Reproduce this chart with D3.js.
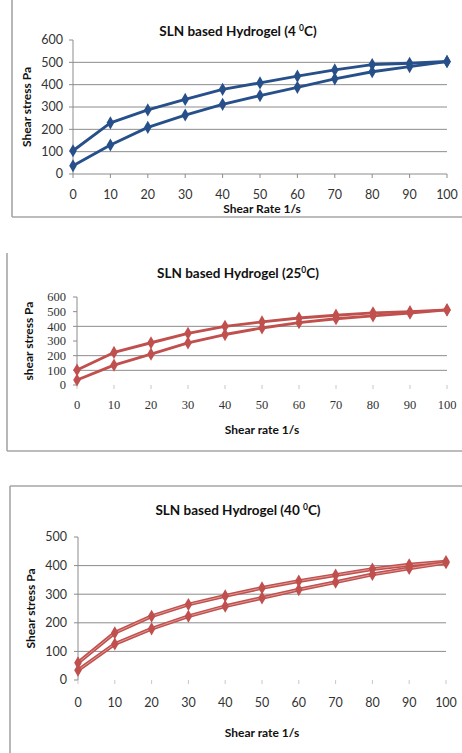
<!DOCTYPE html>
<html>
<head>
<meta charset="utf-8">
<script src="https://cdn.jsdelivr.net/npm/d3@7"></script>
<style>
  html, body { margin: 0; padding: 0; background: #fff; }
  svg { display: block; }
  .title { font: bold 13.5px Lato, "Open Sans", sans-serif; fill: #111; }
  .alabel { font: bold 12px Lato, "Open Sans", sans-serif; fill: #111; }
</style>
</head>
<body>
<svg id="fig" width="462" height="753"></svg>
<script>
// shear rate (1/s), shared by all three panels
const shearRate = [0, 10, 20, 30, 40, 50, 60, 70, 80, 90, 100];

// 4 °C
const up4 = [104, 229, 287, 334, 379, 408, 438, 466, 490, 496, 504];
const down4 = [37, 130, 209, 264, 312, 351, 388, 426, 458, 481, 503];
// 25 °C
const up25 = [102, 222, 288, 352, 400, 430, 457, 476, 492, 500, 512];
const down25 = [34, 136, 210, 287, 344, 389, 425, 452, 471, 490, 512];
// 40 °C
const up40 = [60, 165, 223, 264, 294, 322, 346, 367, 388, 403, 414];
const down40 = [34, 126, 179, 223, 258, 287, 316, 342, 369, 390, 410];

const yTicks600 = [0, 100, 200, 300, 400, 500, 600];
const yTicks500 = [0, 100, 200, 300, 400, 500];
const xTicks = shearRate;

const svg = d3.select("#fig");
const BORDER = "#a6a6a6";

const panels = [
  {
    title: ["SLN based Hydrogel (4 ", "0", "C)"], xLabel: "Shear Rate 1/s", yLabel: "Shear stress Pa",
    series: [up4, down4], color: "#27508a", hollow: false,
    yMax: 600, yTicks: yTicks600, grid: [100, 200, 300, 400, 500], xAxisLine: true,
    px: [73, 447], py: [174, 40], titleY: 36, xTickY: 199, xLabelY: 213, yLabelX: 31,
    tickFont: "12.5px Lato, 'Open Sans', sans-serif", yTickX: 63,
    frame: [[12, 0, 12, 217], [12, 217, 462, 217]]
  },
  {
    title: ["SLN based Hydrogel (25", "0", "C)"], xLabel: "Shear rate 1/s", yLabel: "shear stress Pa",
    series: [up25, down25], color: "#c0504d", hollow: false,
    yMax: 600, yTicks: yTicks600, grid: [100, 200, 400], xAxisLine: false,
    px: [77, 447], py: [385, 297], titleY: 278, xTickY: 409, xLabelY: 434, yLabelX: 33,
    tickFont: "12.5px 'Liberation Serif', 'DejaVu Serif', serif", yTickX: 66,
    frame: [[7, 253, 7, 451], [7, 451, 462, 451]]
  },
  {
    title: ["SLN based Hydrogel (40 ", "0", "C)"], xLabel: "Shear rate 1/s", yLabel: "Shear stress  Pa",
    series: [up40, down40], color: "#c0504d", hollow: true,
    yMax: 500, yTicks: yTicks500, grid: [100, 200, 300, 400], xAxisLine: false,
    px: [78, 446], py: [680, 537], titleY: 515, xTickY: 707, xLabelY: 737, yLabelX: 35,
    tickFont: "12.5px Lato, 'Open Sans', sans-serif", yTickX: 67,
    frame: [[10, 486, 462, 486], [10, 486, 10, 753]]
  }
];

function draw(p) {
  const g = svg.append("g");
  const x = d3.scaleLinear([0, 100], p.px);
  const y = d3.scaleLinear([0, p.yMax], p.py);

  // chart-area border (only the visible edges)
  for (const [x1, y1, x2, y2] of p.frame) {
    g.append("line").attr("x1", x1).attr("y1", y1).attr("x2", x2).attr("y2", y2)
      .attr("stroke", BORDER).attr("stroke-width", 1.6);
  }

  // gridlines
  g.selectAll(".grid").data(p.grid).join("line")
    .attr("x1", p.px[0]).attr("x2", p.px[1])
    .attr("y1", d => y(d)).attr("y2", d => y(d))
    .attr("stroke", "#8c8c8c").attr("stroke-width", 1);

  // y axis
  g.append("line").attr("x1", p.px[0]).attr("x2", p.px[0])
    .attr("y1", y(0)).attr("y2", y(p.yMax)).attr("stroke", "#8c8c8c");
  g.selectAll(".yt").data(p.yTicks).join("line")
    .attr("x1", p.px[0] - 4).attr("x2", p.px[0])
    .attr("y1", d => y(d)).attr("y2", d => y(d)).attr("stroke", "#8c8c8c");
  g.selectAll(".yl").data(p.yTicks).join("text")
    .attr("x", p.yTickX).attr("y", d => y(d)).attr("dy", "0.35em")
    .attr("text-anchor", "end").style("font", p.tickFont).attr("fill", "#333")
    .text(d => d);

  // x axis
  if (p.xAxisLine) {
    g.append("line").attr("x1", p.px[0]).attr("x2", p.px[1])
      .attr("y1", y(0)).attr("y2", y(0)).attr("stroke", "#8c8c8c");
  }
  g.selectAll(".xt").data(xTicks).join("line")
    .attr("x1", d => x(d)).attr("x2", d => x(d))
    .attr("y1", y(0)).attr("y2", y(0) + 4)
    .attr("stroke", p.xAxisLine ? "#8c8c8c" : "#c8c8c8");
  g.selectAll(".xl").data(xTicks).join("text")
    .attr("x", d => x(d)).attr("y", p.xTickY)
    .attr("text-anchor", "middle").style("font", p.tickFont).attr("fill", "#333")
    .text(d => d);

  // titles
  const t = g.append("text").attr("class", "title")
    .attr("x", 238).attr("y", p.titleY).attr("text-anchor", "middle");
  t.append("tspan").text(p.title[0]);
  t.append("tspan").attr("dy", -5).style("font-size", "8.5px").text(p.title[1]);
  t.append("tspan").attr("dy", 5).text(p.title[2]);

  g.append("text").attr("class", "alabel")
    .attr("x", 262).attr("y", p.xLabelY).attr("text-anchor", "middle").text(p.xLabel);
  g.append("text").attr("class", "alabel")
    .attr("transform", `translate(${p.yLabelX},${(y(0) + y(p.yMax)) / 2}) rotate(-90)`)
    .attr("text-anchor", "middle").text(p.yLabel);

  // series
  const line = d3.line().x((_, i) => x(shearRate[i])).y(v => y(v));
  const diamond = d3.symbol(d3.symbolDiamond, 50);
  for (const s of p.series) {
    g.append("path").attr("d", line(s)).attr("fill", "none")
      .attr("stroke", p.color).attr("stroke-width", p.hollow ? 3.8 : 2.9)
      .attr("stroke-linejoin", "round");
    if (p.hollow) {
      g.append("path").attr("d", line(s)).attr("fill", "none")
        .attr("stroke", "#e0a09e").attr("stroke-width", 0.9);
    }
    g.selectAll(null).data(s).join("path")
      .attr("d", diamond)
      .attr("transform", (v, i) => `translate(${x(shearRate[i])},${y(v)})`)
      .attr("fill", p.color);
  }
}

panels.forEach(draw);
</script>
</body>
</html>
